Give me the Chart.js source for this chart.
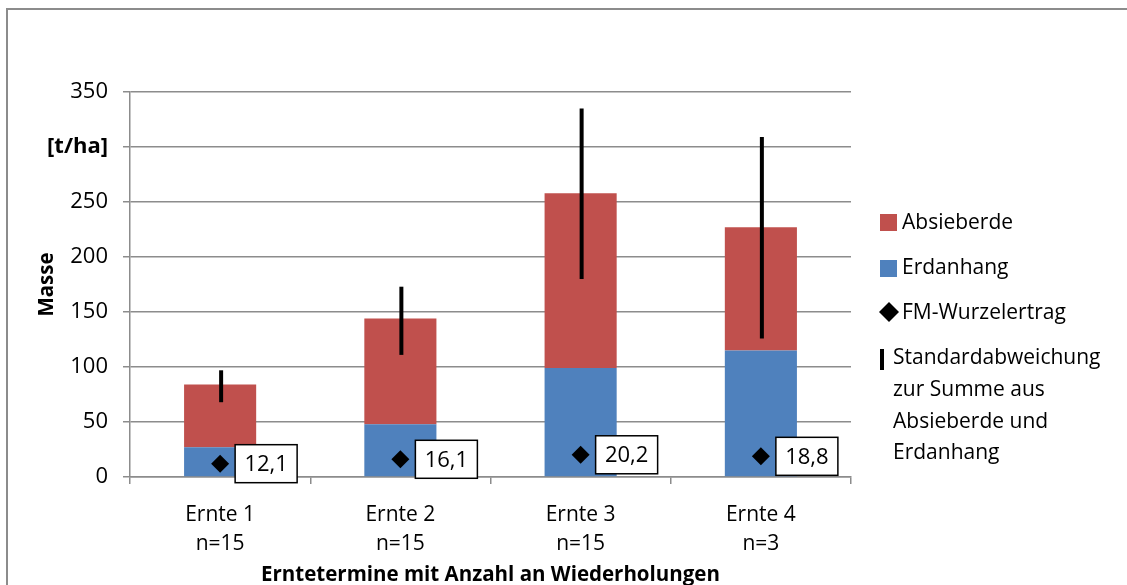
<!DOCTYPE html>
<html>
<head>
<meta charset="utf-8">
<script src="https://cdn.jsdelivr.net/npm/chart.js@4"></script>
<style>
  body { margin: 0; background: #fff; }
  #wrap { position: relative; width: 1127px; height: 585px; }
  #frame { position: absolute; left: 6px; top: 8px; width: 1200px; height: 700px;
           border-left: 2px solid #8c8c8c; border-top: 2px solid #8c8c8c; }
  #chart { position: absolute; left: 0; top: 0; }
</style>
</head>
<body>
<div id="wrap">
  <div id="frame"></div>
  <canvas id="chart" width="1127" height="585"></canvas>
</div>
<script>
const categories = [["Ernte 1", "n=15"], ["Ernte 2", "n=15"], ["Ernte 3", "n=15"], ["Ernte 4", "n=3"]];
const erdanhang = [27, 48, 99, 115];
const absieberde = [57, 96, 159, 112];
const fmWurzelertrag = [12.1, 16.1, 20.2, 18.8];
const sdLow = [68, 111, 180, 126];
const sdHigh = [97, 173, 335, 309];
const yTicks = [0, 50, 100, 150, 200, 250, 300, 350];

const RED = "#C0504D";
const BLUE = "#4F81BD";
const GRID = "#8c8c8c";
const FONT = "'Open Sans', sans-serif";

const extras = {
    id: "extras",
    afterDatasetsDraw(chart) {
        const ctx = chart.ctx;
        const x = chart.scales.x;
        const y = chart.scales.y;

        // error bars
        ctx.save();
        ctx.strokeStyle = "#000";
        ctx.lineWidth = 4;
        sdLow.forEach((lo, i) => {
            const px = x.getPixelForValue(i) + 1;
            ctx.beginPath();
            ctx.moveTo(px, y.getPixelForValue(lo));
            ctx.lineTo(px, y.getPixelForValue(sdHigh[i]));
            ctx.stroke();
        });
        ctx.restore();

        // value boxes next to the diamonds
        ctx.save();
        ctx.font = "22px " + FONT;
        ctx.textAlign = "center";
        ctx.textBaseline = "middle";
        fmWurzelertrag.forEach((v, i) => {
            const px = x.getPixelForValue(i) + 15;
            const py = y.getPixelForValue(v);
            const w = 62, h = 38;
            ctx.fillStyle = "#fff";
            ctx.fillRect(px, py - h / 2, w, h);
            ctx.strokeStyle = "#000";
            ctx.lineWidth = 1.5;
            ctx.strokeRect(px, py - h / 2, w, h);
            ctx.fillStyle = "#000";
            ctx.fillText(v.toFixed(1).replace(".", ","), px + w / 2, py + 1);
        });
        ctx.restore();
    },
    afterDraw(chart) {
        const ctx = chart.ctx;
        ctx.save();
        ctx.font = "21px " + FONT;
        ctx.textBaseline = "middle";
        ctx.fillStyle = RED;
        ctx.fillRect(880, 214, 17, 17);
        ctx.fillStyle = BLUE;
        ctx.fillRect(880, 260, 17, 17);
        ctx.fillStyle = "#000";
        ctx.beginPath();
        ctx.moveTo(889, 302); ctx.lineTo(899, 312); ctx.lineTo(889, 322); ctx.lineTo(879, 312);
        ctx.closePath();
        ctx.fill();
        ctx.fillRect(880, 349, 4, 21);
        ctx.fillText("Absieberde", 902, 223);
        ctx.fillText("Erdanhang", 902, 268);
        ctx.fillText("FM-Wurzelertrag", 902, 313);
        ctx.fillText("Standardabweichung", 893, 358);
        ctx.fillText("zur Summe aus", 893, 390);
        ctx.fillText("Absieberde und", 893, 422);
        ctx.fillText("Erdanhang", 893, 453);
        ctx.restore();
    }
};

new Chart(document.getElementById("chart"), {
    type: "bar",
    data: {
        labels: categories,
        datasets: [
            { label: "FM-Wurzelertrag", type: "line", data: fmWurzelertrag, stack: "fm",
              showLine: false, pointStyle: "rectRot", pointRadius: 9, pointHoverRadius: 9,
              backgroundColor: "#000", borderColor: "#000", borderWidth: 0, order: 0 },
            { label: "Erdanhang", data: erdanhang, backgroundColor: BLUE, stack: "s", order: 1,
              barPercentage: 0.4, categoryPercentage: 1 },
            { label: "Absieberde", data: absieberde, backgroundColor: RED, stack: "s", order: 1,
              barPercentage: 0.4, categoryPercentage: 1 }
        ]
    },
    options: {
        responsive: false,
        animation: false,
        events: [],
        layout: { padding: { top: 92, right: 276, left: 0, bottom: 0 } },
        plugins: { legend: { display: false }, tooltip: { enabled: false } },
        scales: {
            x: {
                stacked: true,
                offset: true,
                afterFit: s => { s.height = 108; },
                grid: { offset: true, drawOnChartArea: false, drawTicks: true, tickLength: 7, color: GRID, lineWidth: 1.5 },
                border: { color: GRID, width: 1.5 },
                ticks: { color: "#000", font: { family: FONT, size: 21, lineHeight: 1.35 }, padding: 17, maxRotation: 0 },
                title: { display: true, text: "Erntetermine mit Anzahl an Wiederholungen", color: "#000",
                         font: { family: FONT, size: 20.5, weight: "bold", lineHeight: 0.95 }, padding: { top: 0, bottom: 0 } }
            },
            y: {
                stacked: true,
                min: 0, max: 350,
                afterFit: s => { s.width = 130; },
                afterBuildTicks: s => { s.ticks = yTicks.map(v => ({ value: v })); },
                grid: { color: GRID, lineWidth: 1.5, tickLength: 7 },
                border: { color: GRID, width: 1.5 },
                ticks: {
                    color: "#000",
                    padding: 15,
                    font: c => ({ family: FONT, size: 22, weight: c.tick && c.tick.value === 300 ? "bold" : "normal" }),
                    callback: v => v === 300 ? "[t/ha]" : String(v)
                },
                title: { display: true, text: "Masse", color: "#000",
                         font: { family: FONT, size: 20.5, weight: "bold", lineHeight: 1.2 }, padding: { top: 35, bottom: 0 } }
            }
        }
    },
    plugins: [extras]
});
</script>
</body>
</html>
